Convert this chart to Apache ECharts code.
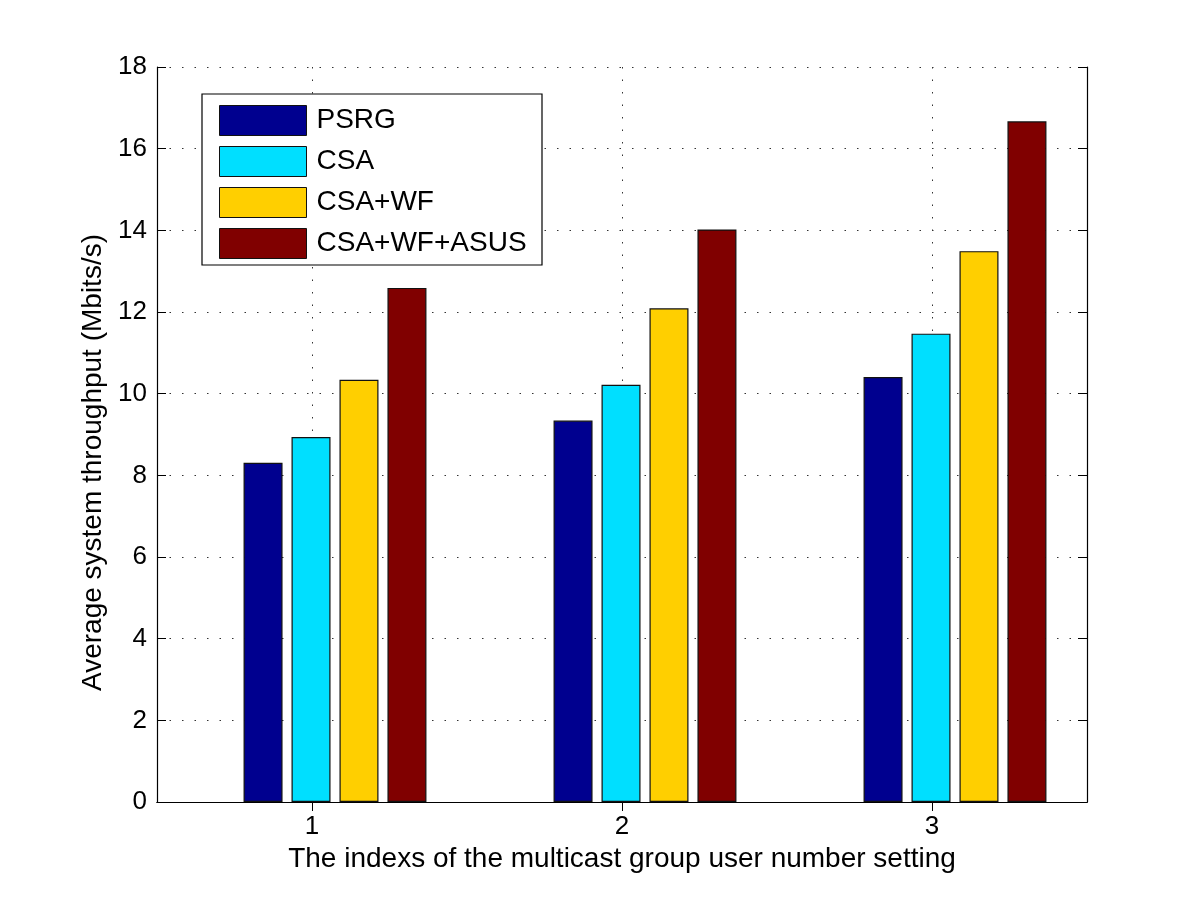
<!DOCTYPE html>
<html><head><meta charset="utf-8">
<script src="https://cdn.jsdelivr.net/npm/echarts@6/dist/echarts.min.js"></script>
<style>html,body{margin:0;padding:0;background:#fff}#c{width:1200px;height:903px}</style>
</head><body><div id="c"></div>
<script>
const categories = ['1', '2', '3'];
const categoryPositions = [1, 2, 3];
const seriesNames = ['PSRG', 'CSA', 'CSA+WF', 'CSA+WF+ASUS'];
const psrg = [8.31, 9.34, 10.41];
const csa = [8.94, 10.22, 11.47];
const csaWf = [10.34, 12.09, 13.49];
const csaWfAsus = [12.59, 14.02, 16.67];
const colors = ['#00008F', '#00DFFF', '#FFCF00', '#800000'];
const yMin = 0, yMax = 18, yInterval = 2;
const xMin = 0.5, xMax = 3.5;
const xAxisTitle = 'The indexs of the multicast group user number setting';
const yAxisTitle = 'Average system throughput (Mbits/s)';

const FONT = '"Liberation Sans", Arial, sans-serif';
const seriesData = [psrg, csa, csaWf, csaWfAsus];
const dotted = { color: '#333', width: 1, type: [1.5, 11] };

const chart = echarts.init(document.getElementById('c'), null, { renderer: 'canvas' });
const option = {
  backgroundColor: '#fff',
  animation: false,
  textStyle: { fontFamily: FONT },
  grid: [
    { left: 157, right: 113, top: 67, bottom: 101 },
    { left: 180, right: 90, top: 67, bottom: 101 }
  ],
  xAxis: [
    {
      gridIndex: 0, type: 'value', min: xMin, max: xMax, position: 'bottom',
      name: xAxisTitle, nameLocation: 'middle', nameGap: 38,
      nameTextStyle: { fontSize: 28, color: '#000', fontFamily: FONT },
      axisLine: { show: true, lineStyle: { color: '#000', width: 1.2 } },
      axisTick: { show: true, inside: true, length: 9, customValues: categoryPositions, lineStyle: { color: '#000' } },
      axisLabel: { show: true, customValues: categoryPositions, margin: 12, fontSize: 26, color: '#000', fontFamily: FONT,
        formatter: v => categories[categoryPositions.indexOf(v)] },
      splitLine: { show: true, lineStyle: dotted }
    },
    {
      gridIndex: 0, type: 'value', min: xMin, max: xMax, position: 'top',
      axisLine: { show: true, lineStyle: { color: '#000', width: 1.2 } },
      axisTick: { show: true, inside: true, length: 9, customValues: categoryPositions, lineStyle: { color: '#000' } },
      axisLabel: { show: false },
      splitLine: { show: false }
    },
    {
      gridIndex: 1, type: 'category', data: categories, show: false
    }
  ],
  yAxis: [
    {
      gridIndex: 0, type: 'value', min: yMin, max: yMax, interval: yInterval, position: 'left',
      name: yAxisTitle, nameLocation: 'middle', nameGap: 47,
      nameTextStyle: { fontSize: 28, color: '#000', fontFamily: FONT, padding: [0, 56, 0, 0] },
      axisLine: { show: true, lineStyle: { color: '#000', width: 1.2 } },
      axisTick: { show: true, inside: true, length: 9, lineStyle: { color: '#000' } },
      axisLabel: { margin: 10, fontSize: 26, color: '#000', fontFamily: FONT },
      splitLine: { show: true, lineStyle: dotted }
    },
    {
      gridIndex: 0, type: 'value', min: yMin, max: yMax, interval: yInterval, position: 'right',
      axisLine: { show: true, lineStyle: { color: '#000', width: 1.2 } },
      axisTick: { show: true, inside: true, length: 9, lineStyle: { color: '#000' } },
      axisLabel: { show: false },
      splitLine: { show: false }
    },
    {
      gridIndex: 1, type: 'value', min: yMin, max: yMax, show: false, splitLine: { show: false }
    }
  ],
  legend: {
    orient: 'vertical', left: 219, top: 105, padding: 0,
    itemWidth: 87, itemHeight: 30, itemGap: 10, icon: 'rect',
    itemStyle: { borderColor: '#111', borderWidth: 1 },
    textStyle: { fontSize: 28, color: '#000', fontFamily: FONT, padding: [0, 0, 0, 5] },
    data: seriesNames
  },
  graphic: [
    { type: 'rect', z: 3, shape: { x: 202, y: 94, width: 340, height: 171 },
      style: { fill: '#fff', stroke: '#000', lineWidth: 1.2 } }
  ],
  series: seriesNames.map((n, i) => ({
    name: n, type: 'bar', xAxisIndex: 2, yAxisIndex: 2,
    data: seriesData[i], barWidth: 39, barGap: '23%',
    itemStyle: { color: colors[i], borderColor: '#111', borderWidth: 1.2 },
    z: 5
  }))
};
chart.setOption(option);
</script>
</body></html>
